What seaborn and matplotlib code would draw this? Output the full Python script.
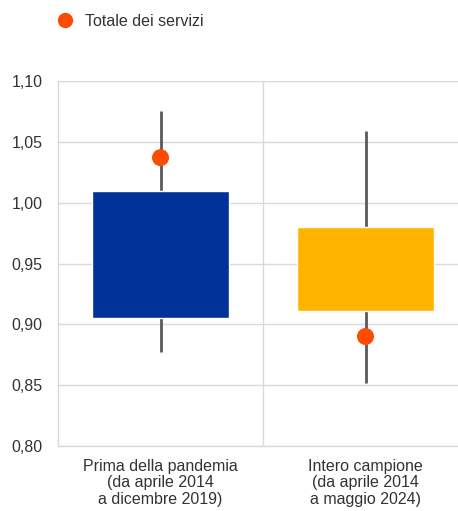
import numpy as np
import pandas as pd
import seaborn as sns
import matplotlib.pyplot as plt
from matplotlib.lines import Line2D

# Values
categories = ['Prima della pandemia\n(da aprile 2014\na dicembre 2019)',
              'Intero campione\n(da aprile 2014\na maggio 2024)']
box_low = [0.905, 0.911]
box_high = [1.010, 0.980]
whisker_low = [0.877, 0.852]
whisker_high = [1.075, 1.059]
totale_servizi = [1.037, 0.890]
box_colors = ['#003299', '#FFB400']
yticks = [0.80, 0.85, 0.90, 0.95, 1.00, 1.05, 1.10]

sns.set_style('white')
plt.rcParams['font.family'] = ['Liberation Sans', 'DejaVu Sans']
text_col = '#333333'
grid_col = '#d9d9d9'
fs = 11.5

df = pd.DataFrame({'cat': categories, 'pos': np.arange(len(categories)),
                   'lo': box_low, 'hi': box_high,
                   'wlo': whisker_low, 'whi': whisker_high,
                   'tot': totale_servizi})

fig = plt.figure(figsize=(4.58, 5.11), dpi=100)
ax = fig.add_axes([58 / 458, 1 - 446 / 511, 410 / 458, 365 / 511])

# whiskers (behind boxes)
ax.vlines(df['pos'], df['wlo'], df['whi'], color='#595959', lw=2, zorder=2)
# boxes
ax.bar(df['pos'], df['hi'] - df['lo'], bottom=df['lo'], width=0.67,
       color=box_colors, zorder=3)
# points
sns.scatterplot(data=df, x='pos', y='tot', color='#FF4B00', s=150,
                edgecolor='none', zorder=4, ax=ax, legend=False)

ax.set_xlim(-0.5, 1.5)
ax.set_ylim(0.80, 1.10)
ax.set_yticks(yticks)
ax.set_yticklabels([f'{v:.2f}'.replace('.', ',') for v in yticks])
ax.set_xticks(df['pos'])
ax.set_xticklabels(categories, linespacing=1.15)
ax.set_xticks([0.5], minor=True)
ax.tick_params(which='both', length=0, labelsize=fs, colors=text_col)
ax.tick_params(axis='x', pad=9)
ax.tick_params(axis='y', pad=11)
ax.grid(axis='y', which='major', color=grid_col, lw=1)
ax.grid(axis='x', which='minor', color=grid_col, lw=1)
ax.set_axisbelow(True)
ax.set_xlabel('')
ax.set_ylabel('')
for side in ['top', 'right']:
    ax.spines[side].set_visible(False)
for side in ['left', 'bottom']:
    ax.spines[side].set_color(grid_col)
    ax.spines[side].set_linewidth(1)

handle = Line2D([], [], marker='o', linestyle='none', color='#FF4B00',
                markersize=11, markeredgewidth=0)
fig.legend([handle], ['Totale dei servizi'], loc='center left',
           bbox_to_anchor=(47 / 458, 1 - 21 / 511), frameon=False,
           fontsize=fs, labelcolor=text_col, handletextpad=0.7,
           borderpad=0, handlelength=1.2)

fig.savefig('out.png', dpi=100)
